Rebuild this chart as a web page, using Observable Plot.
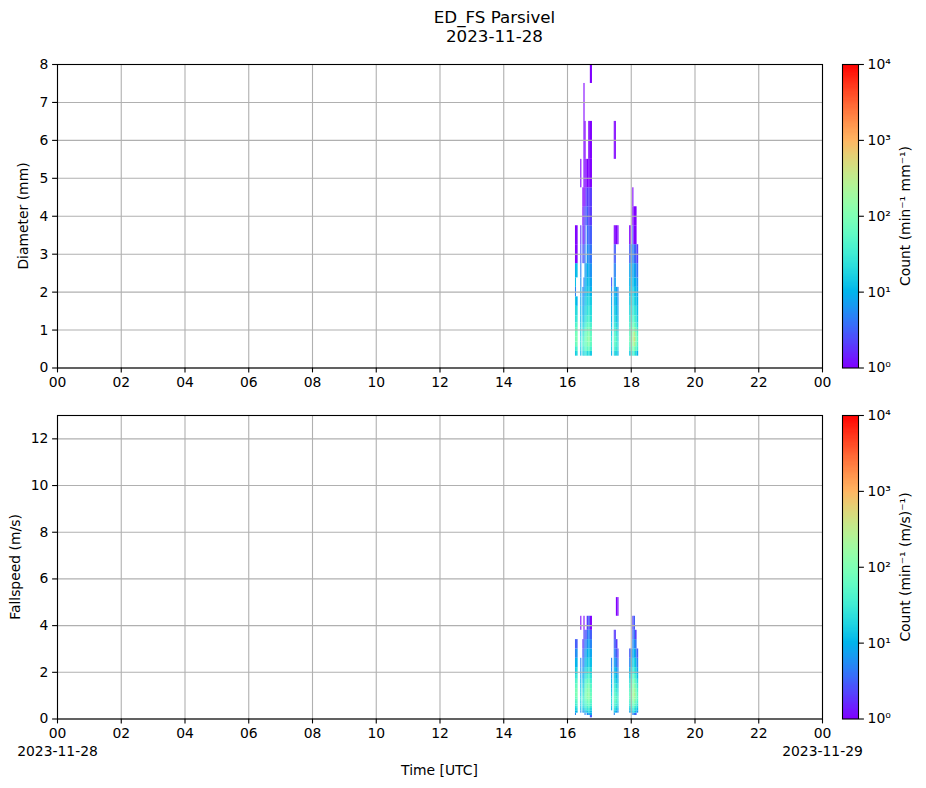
<!DOCTYPE html>
<html><head><meta charset="utf-8">
<script src="https://cdn.jsdelivr.net/npm/d3@7"></script>
<script src="https://cdn.jsdelivr.net/npm/@observablehq/plot@0.6"></script>
<style>
body{margin:0;overflow:hidden;background:#fff;font-family:"DejaVu Sans",sans-serif;}
#fig{position:relative;width:926px;height:788px;overflow:hidden;}
#fig svg{position:absolute;left:0;}
.lbl{position:absolute;white-space:nowrap;color:#000;line-height:1;font-family:"DejaVu Sans",sans-serif;}
</style></head><body><div id="fig"></div>
<script>
// ---- data ----
const titleLines = ["ED_FS Parsivel", "2023-11-28"];
// bin edges (Parsivel class centres used as cell edges)
const diamEdges = [0.062,0.187,0.312,0.437,0.562,0.687,0.812,0.937,1.062,1.187,1.375,1.625,1.875,2.125,2.375,2.75,3.25,3.75,4.25,4.75,5.5,6.5,7.5,8.5];
const speedEdges = [0.05,0.15,0.25,0.35,0.45,0.55,0.65,0.75,0.85,0.95,1.1,1.3,1.5,1.7,1.9,2.2,2.6,3.0,3.4,3.8,4.4,5.2,6.0];
// time columns, minutes after 00:00 UTC
const colStart = [975,977,985,989,991,993,995,997,1000,1003,1043,1048,1050,1052,1055,1077,1080,1083,1085,1088,1091];
const colEnd   = [977,980,987,991,993,995,997,1000,1003,1007,1045,1050,1052,1055,1057,1080,1083,1085,1088,1091,1094];
// counts per diameter bin (min^-1 mm^-1), one row per time column
const diamCounts = [
  [0,0,15,30,60,80,80,60,40,25,20,15,5,12,10,1,1,0,0,0,0,0,0],
  [0,0,20,40,80,100,90,70,50,30,20,10,0,0,12,1,1,0,0,0,0,0,0],
  [0,0,10,15,20,20,15,15,12,10,10,8,8,6,5,3,2,0,0,1,0,0,0],
  [0,0,20,30,40,40,30,25,20,15,10,8,6,0,0,3,2,1,1,0,0,0,0],
  [0,0,15,25,40,30,25,20,15,10,8,6,5,4,0,2,1,2,1,1,1,1,0],
  [0,0,30,60,80,100,80,60,40,30,20,15,10,10,8,5,3,2,1,1,1,0,0],
  [0,0,25,50,60,70,60,50,30,20,15,12,10,8,6,0,0,3,2,1,0,0,0],
  [0,0,20,60,100,120,100,80,60,40,25,20,15,12,10,6,4,3,2,1,0,0,0],
  [0,0,25,70,120,150,120,90,60,40,30,20,15,12,8,5,3,2,2,1,1,0,0],
  [0,0,15,40,60,70,60,50,40,25,20,15,10,8,6,4,3,2,2,1,1,0,1],
  [0,0,10,15,20,20,15,15,12,10,10,8,6,3,0,0,0,0,0,0,0,0,0],
  [0,0,20,40,50,50,40,30,25,20,15,10,8,6,5,3,1,0,0,0,1,0,0],
  [0,0,15,30,50,60,50,40,30,20,15,12,10,8,5,3,1,0,0,0,1,0,0],
  [0,0,20,30,40,40,30,25,20,15,12,10,8,0,0,0,1,0,0,0,0,0,0],
  [0,0,10,20,25,20,20,15,12,10,8,6,5,0,0,0,1,0,0,0,0,0,0],
  [0,0,15,40,60,80,60,50,40,30,20,15,12,10,8,3,1,0,0,0,0,0,0],
  [0,0,30,80,120,150,120,100,60,40,30,20,15,12,10,6,0,0,0,0,0,0,0],
  [0,0,30,80,150,200,150,100,60,40,25,20,15,12,8,5,3,1,1,0,0,0,0],
  [0,0,40,100,250,400,300,150,80,50,30,20,15,10,8,4,1,1,0,0,0,0,0],
  [0,0,20,60,120,150,120,80,50,35,25,15,12,10,6,3,1,1,0,0,0,0,0],
  [0,0,10,30,40,50,40,30,20,15,12,10,8,6,4,2,0,0,0,0,0,0,0]
];
// counts per fall-speed bin (min^-1 (m/s)^-1)
const speedCounts = [
  [0,5,10,15,20,30,40,50,60,80,80,60,40,25,15,10,5,3,0,0,0,0],
  [0,0,10,20,30,40,50,60,80,100,90,70,50,30,20,10,6,3,0,0,0,0],
  [0,0,5,10,12,15,15,20,20,15,15,12,10,8,6,5,0,0,0,1,0,0],
  [0,0,8,15,20,25,30,40,40,35,30,20,15,10,8,5,3,2,0,0,0,0],
  [0,0,5,10,15,20,25,25,25,20,15,12,10,8,6,4,3,2,2,1,0,0],
  [0,5,15,25,40,50,60,80,100,120,100,80,50,30,20,12,8,5,3,0,0,0],
  [0,0,10,20,30,40,50,60,80,80,70,50,35,20,15,10,6,4,2,0,0,0],
  [0,5,15,30,40,60,80,100,120,140,120,90,60,40,25,15,10,6,4,2,0,0],
  [0,8,20,30,50,70,90,110,130,150,130,100,70,45,30,18,12,8,5,3,0,0],
  [3,8,12,20,30,40,50,60,70,70,60,50,35,25,18,12,8,5,3,1,0,0],
  [0,0,0,10,12,15,20,20,20,15,12,10,10,8,6,5,0,0,0,0,0,0],
  [0,5,12,20,30,40,50,60,60,50,40,30,20,15,12,8,5,3,2,0,0,0],
  [0,0,10,20,30,40,50,60,60,50,40,30,20,15,10,6,4,3,2,0,0,0],
  [0,0,8,15,20,30,40,45,45,40,30,20,15,10,8,5,3,2,0,0,1,0],
  [0,0,5,10,15,20,25,30,30,25,20,15,10,8,5,3,2,0,0,0,1,0],
  [0,0,8,15,20,30,40,50,60,60,50,35,25,15,10,5,3,0,0,0,0,0],
  [0,0,15,25,40,60,80,100,120,140,120,90,60,35,20,10,5,0,0,0,0,0],
  [0,5,15,25,40,60,90,120,150,180,150,110,70,45,25,15,8,5,3,2,0,0],
  [0,5,20,30,50,80,120,160,200,250,200,140,90,55,30,18,10,6,4,3,0,0],
  [0,3,12,20,30,50,70,90,110,130,110,80,55,35,20,12,6,4,2,0,0,0],
  [0,0,6,12,18,25,35,45,50,50,40,30,20,12,8,5,3,0,0,0,0,0]
];
const xTicks = [0,2,4,6,8,10,12,14,16,18,20,22,24];
const diamTicks = [0,1,2,3,4,5,6,7,8];
const speedTicks = [0,2,4,6,8,10,12];
const cbarTicks = [1,10,100,1000,10000];
const cbarTickLabels = ["10\u2070","10\u00B9","10\u00B2","10\u00B3","10\u2074"];
const dateLabels = [{h:0, text:"2023-11-28"}, {h:24, text:"2023-11-29"}];

// ---- helpers ----
function cells(counts, edges) {
  const out = [];
  counts.forEach((row, i) => row.forEach((c, j) => {
    if (c > 0) out.push({x1: colStart[i]/60, x2: colEnd[i]/60, y1: edges[j], y2: edges[j+1], count: c});
  }));
  return out;
}
// matplotlib "rainbow" colormap
const mplRainbow = t => {
  const r = Math.min(1, Math.abs(2*t - 0.5)), g = Math.max(0, Math.sin(Math.PI*t)), b = Math.max(0, Math.cos(Math.PI*t/2));
  return d3.rgb(r*255, g*255, b*255).formatHex();
};
const colorScale = {type: "log", domain: [1, 1e4], interpolate: mplRainbow};
const FS = "13.9px";
const baseStyle = {background: "transparent", fontFamily: "DejaVu Sans, sans-serif", fontSize: FS, color: "black", overflow: "visible"};
const gridStyle = {stroke: "#b0b0b0", strokeOpacity: 1, strokeWidth: 1.1};
const hh = d => String(d % 24).padStart(2, "0");

const fig = document.getElementById("fig");
function place(svg, top) { svg.style.top = top + "px"; fig.appendChild(svg); }
function label(text, cx, cy, size, rot) {
  const d = document.createElement("div");
  d.className = "lbl"; d.textContent = text; d.style.fontSize = size;
  d.style.left = cx + "px"; d.style.top = cy + "px";
  d.style.transform = "translate(-50%,-50%)" + (rot ? " rotate(-90deg)" : "");
  fig.appendChild(d);
}
function panel(data, yDomain, yTicks, mt, mb, withDates) {
  const h = mt + 303.5 + mb;
  return Plot.plot({
    width: 926, height: h, marginLeft: 57, marginRight: 104, marginTop: mt, marginBottom: mb,
    style: baseStyle,
    x: {domain: [0, 24]}, y: {domain: yDomain}, color: colorScale,
    marks: [
      Plot.rect(data, {x1: "x1", x2: "x2", y1: "y1", y2: "y2", fill: "count", inset: 0, clip: true}),
      Plot.gridX(xTicks, gridStyle),
      Plot.gridY(yTicks, gridStyle),
      Plot.axisX(xTicks, {tickSize: 4.9, tickPadding: 4.2, tickFormat: hh, label: null, strokeWidth: 1.1}),
      Plot.axisY(yTicks, {tickSize: 4.9, tickPadding: 4.2, label: null, strokeWidth: 1.1}),
      withDates ? Plot.text(dateLabels, {x: "h", text: "text", frameAnchor: "bottom", dy: 33, lineAnchor: "middle"}) : null,
      Plot.frame({stroke: "black", strokeWidth: 1.1})
    ]
  });
}
function colorbar(mt, mb) {
  const h = mt + 303.5 + mb;
  const steps = d3.range(0, 256).map(i => ({lo: 10 ** (4*i/256), hi: 10 ** (4*(i+1)/256), mid: 10 ** (4*(i+0.5)/256)}));
  return Plot.plot({
    width: 926, height: h, marginLeft: 842, marginRight: 68, marginTop: mt, marginBottom: mb,
    style: baseStyle,
    x: {domain: [0, 1], axis: null},
    y: {type: "log", domain: [1, 1e4], axis: null},
    color: colorScale,
    marks: [
      Plot.rect(steps, {x1: 0, x2: 1, y1: "lo", y2: "hi", fill: "mid", inset: 0, shapeRendering: "crispEdges"}),
      Plot.axisY(cbarTicks, {anchor: "right", tickSize: 4.9, tickPadding: 4.2, strokeWidth: 1.1,
        tickFormat: d => cbarTickLabels[cbarTicks.indexOf(d)], label: null}),
      Plot.frame({stroke: "black", strokeWidth: 1.1})
    ]
  });
}

// top panel: Diameter
place(panel(cells(diamCounts, diamEdges), [0, 8], diamTicks, 64, 30, false), 0);
place(colorbar(64, 30), 0);
// bottom panel: Fallspeed
place(panel(cells(speedCounts, speedEdges), [0, 13], speedTicks, 15, 69, true), 400);
place(colorbar(15, 69), 400);

// text
label(titleLines[0], 494.5, 16.5, "16.7px", false);
label(titleLines[1], 494.5, 35.5, "16.7px", false);
label("Diameter (mm)", 24, 216, FS, true);
label("Fallspeed (m/s)", 16, 566.5, FS, true);
label("Time [UTC]", 439.5, 771, FS, false);
label("Count (min\u207B\u00B9 mm\u207B\u00B9)", 906, 216, FS, true);
label("Count (min\u207B\u00B9 (m/s)\u207B\u00B9)", 906, 566.5, FS, true);
</script></body></html>
